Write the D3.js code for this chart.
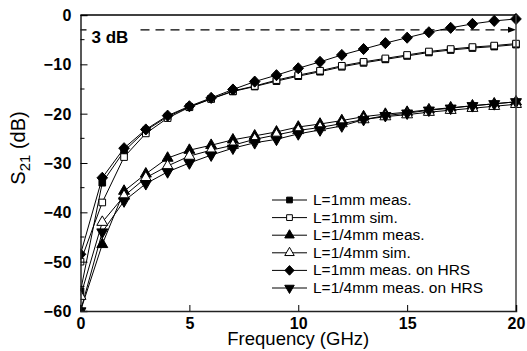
<html>
<head>
    <script src="https://d3js.org/d3.v7.min.js" charset="utf-8"></script>
</head>
<body style="margin:0">
    <script type="text/javascript">
        var width = 527;
        var height = 351;

        // plot area in pixels
        var margin = {top: 15, right: 11, bottom: 40, left: 80.5};

        // frequency points (GHz)
        const freq = d3.range(0, 21);

        // S21 in dB
        const s1mmMeas = [-56, -34, -27.6, -23.4, -20.6, -18.6, -17, -15.5, -14.5, -13.4, -12.4, -11.5, -10.5, -9.7, -9.0, -8.3, -7.6, -7.1, -6.7, -6.4, -6.0];
        const s1mmSim = [-50, -38, -28.8, -24, -20.9, -18.7, -17, -15.4, -14.4, -13.2, -12.2, -11.3, -10.3, -9.5, -8.8, -8.1, -7.4, -6.9, -6.5, -6.2, -5.8];
        const sQmmMeas = [-60, -46.5, -35.7, -32.2, -29, -27.4, -26.4, -25.3, -24.5, -23.7, -22.7, -22.1, -21.4, -20.6, -20.1, -19.7, -19.2, -18.8, -18.4, -18.0, -17.6];
        const sQmmSim = [-57, -42, -36.7, -33, -30.6, -28.6, -27.4, -26.4, -25.2, -24.3, -23.4, -22.8, -22, -21.2, -20.6, -20.2, -19.7, -19.3, -18.9, -18.5, -18.1];
        const s1mmHrs = [-48.5, -33, -27, -23.2, -20.4, -18.5, -16.8, -15.1, -13.5, -12.2, -10.8, -9.5, -8.1, -6.9, -5.7, -4.6, -3.5, -2.6, -1.8, -1.2, -0.8];
        const sQmmHrs = [-60, -44, -37.7, -34.2, -31.8, -30, -28.4, -27, -25.9, -25.2, -24.1, -23.3, -22.5, -21.2, -20.4, -19.9, -19.3, -18.9, -18.4, -18.0, -17.6];

        const seriesNames = ["L=1mm meas.", "L=1mm sim.", "L=1/4mm meas.", "L=1/4mm sim.", "L=1mm meas. on HRS", "L=1/4mm meas. on HRS"];
        const seriesValues = [s1mmMeas, s1mmSim, sQmmMeas, sQmmSim, s1mmHrs, sQmmHrs];

        const xTicks = [0, 5, 10, 15, 20];
        const yTicks = [0, -10, -20, -30, -40, -50, -60];
        const level3dB = -3;

        // a squat diamond, closer to the original than d3's tall one
        const diamond = {
            draw(ctx, size) {
                const r = Math.sqrt(size / 2);
                ctx.moveTo(0, -r * 1.05);
                ctx.lineTo(r, 0);
                ctx.lineTo(0, r * 1.05);
                ctx.lineTo(-r, 0);
                ctx.closePath();
            }
        };

        // marker style per series
        const markers = [
            {type: d3.symbolSquare, size: 44, fill: "black", rot: 0},
            {type: d3.symbolSquare, size: 44, fill: "white", rot: 0},
            {type: d3.symbolTriangle, size: 52, fill: "black", rot: 0},
            {type: d3.symbolTriangle, size: 52, fill: "white", rot: 0},
            {type: diamond, size: 56, fill: "black", rot: 0},
            {type: d3.symbolTriangle, size: 52, fill: "black", rot: 180}
        ];

        const svg = d3.select("body").append("svg")
            .attr("width", width)
            .attr("height", height)
            .style("font-family", "Arial, 'Liberation Sans', sans-serif");

        const x = d3.scaleLinear().domain([0, 20]).range([margin.left, width - margin.right]);
        const y = d3.scaleLinear().domain([-60, 0]).range([height - margin.bottom, margin.top]);

        svg.append("clipPath").attr("id", "plot")
            .append("rect")
            .attr("x", x(0)).attr("y", y(0) - 6)
            .attr("width", x(20) - x(0) + 6).attr("height", y(-60) - y(0) + 6);

        // 3 dB reference line
        svg.append("line")
            .attr("x1", x(0)).attr("x2", x(20) - 4)
            .attr("y1", y(level3dB)).attr("y2", y(level3dB))
            .attr("stroke", "black").attr("stroke-width", 1.3)
            .attr("stroke-dasharray", "9,6");
        svg.append("path")
            .attr("d", `M${x(20) - 8},${y(level3dB) - 3}L${x(20)},${y(level3dB)}L${x(20) - 8},${y(level3dB) + 3}Z`)
            .attr("fill", "black");
        svg.append("rect")
            .attr("x", x(0) + 6).attr("y", y(level3dB) - 3)
            .attr("width", 50).attr("height", 16)
            .attr("fill", "white");
        svg.append("text")
            .attr("x", x(0) + 11).attr("y", y(level3dB) + 13)
            .style("font-weight", "bold").style("font-size", "17px")
            .text("3 dB");

        // curves
        const line = d3.line().x((d, i) => x(freq[i])).y(d => y(d));
        const curves = svg.append("g").attr("clip-path", "url(#plot)");

        seriesValues.forEach((vals, k) => {
            curves.append("path")
                .attr("d", line(vals))
                .attr("fill", "none")
                .attr("stroke", "black")
                .attr("stroke-width", 1);
        });

        seriesValues.forEach((vals, k) => {
            const m = markers[k];
            curves.selectAll(null)
                .data(vals)
                .join("path")
                .attr("d", d3.symbol().type(m.type).size(m.size))
                .attr("transform", (d, i) => `translate(${x(freq[i])},${y(d)}) rotate(${m.rot})`)
                .attr("fill", m.fill)
                .attr("stroke", "black")
                .attr("stroke-width", 1);
        });

        // frame
        svg.append("line").attr("x1", x(0)).attr("x2", x(20)).attr("y1", y(0)).attr("y2", y(0))
            .attr("stroke", "black").attr("stroke-width", 1.5);
        svg.append("line").attr("x1", x(20)).attr("x2", x(20)).attr("y1", y(0)).attr("y2", y(-60))
            .attr("stroke", "#444").attr("stroke-width", 1.5);

        // axes with inward ticks
        const yAxis = svg.append("g")
            .attr("transform", `translate(${x(0)},0)`)
            .call(d3.axisLeft(y).tickValues(yTicks).tickSize(-7).tickPadding(9).tickFormat(d3.format("d")));
        yAxis.selectAll("line.minor")
            .data(d3.range(-55, 0, 10))
            .join("line")
            .attr("x1", 0).attr("x2", 4)
            .attr("y1", d => y(d)).attr("y2", d => y(d))
            .attr("stroke", "black");

        const xAxis = svg.append("g")
            .attr("transform", `translate(0,${y(-60)})`)
            .call(d3.axisBottom(x).tickValues(xTicks).tickSize(-6).tickPadding(7).tickFormat(d3.format("d")));

        [yAxis, xAxis].forEach(a => {
            a.select(".domain").attr("stroke", "#222").attr("stroke-width", 1.5);
            a.selectAll(".tick text")
                .style("font-family", "Arial, 'Liberation Sans', sans-serif")
                .style("font-size", "16px")
                .style("font-weight", "bold")
                .attr("fill", "black");
        });
        yAxis.selectAll(".tick text").attr("dy", "0.35em").attr("textLength", d => d <= -10 ? 28 : null);

        // axis titles
        svg.append("text")
            .attr("x", (x(0) + x(20)) / 2)
            .attr("y", 345)
            .attr("text-anchor", "middle")
            .style("font-size", "18.5px")
            .text("Frequency (GHz)");

        const yTitle = svg.append("text")
            .attr("transform", `translate(25, 148) rotate(-90)`)
            .attr("text-anchor", "middle")
            .style("font-size", "20px");
        yTitle.append("tspan").text("S");
        yTitle.append("tspan").attr("dy", 5).style("font-size", "15px").text("21");
        yTitle.append("tspan").attr("dy", -5).text(" (dB)");

        // legend
        const legend = svg.append("g");
        seriesNames.forEach((name, k) => {
            const ly = 200 + k * 17.6;
            const m = markers[k];
            legend.append("line")
                .attr("x1", 272).attr("x2", 307)
                .attr("y1", ly).attr("y2", ly)
                .attr("stroke", "black");
            legend.append("path")
                .attr("d", d3.symbol().type(m.type).size(m.size * 0.75))
                .attr("transform", `translate(289.5,${ly}) rotate(${m.rot})`)
                .attr("fill", m.fill)
                .attr("stroke", "black");
            legend.append("text")
                .attr("x", 313).attr("y", ly + 5)
                .style("font-size", "15.5px")
                .text(name);
        });
    </script>
</body>
</html>
